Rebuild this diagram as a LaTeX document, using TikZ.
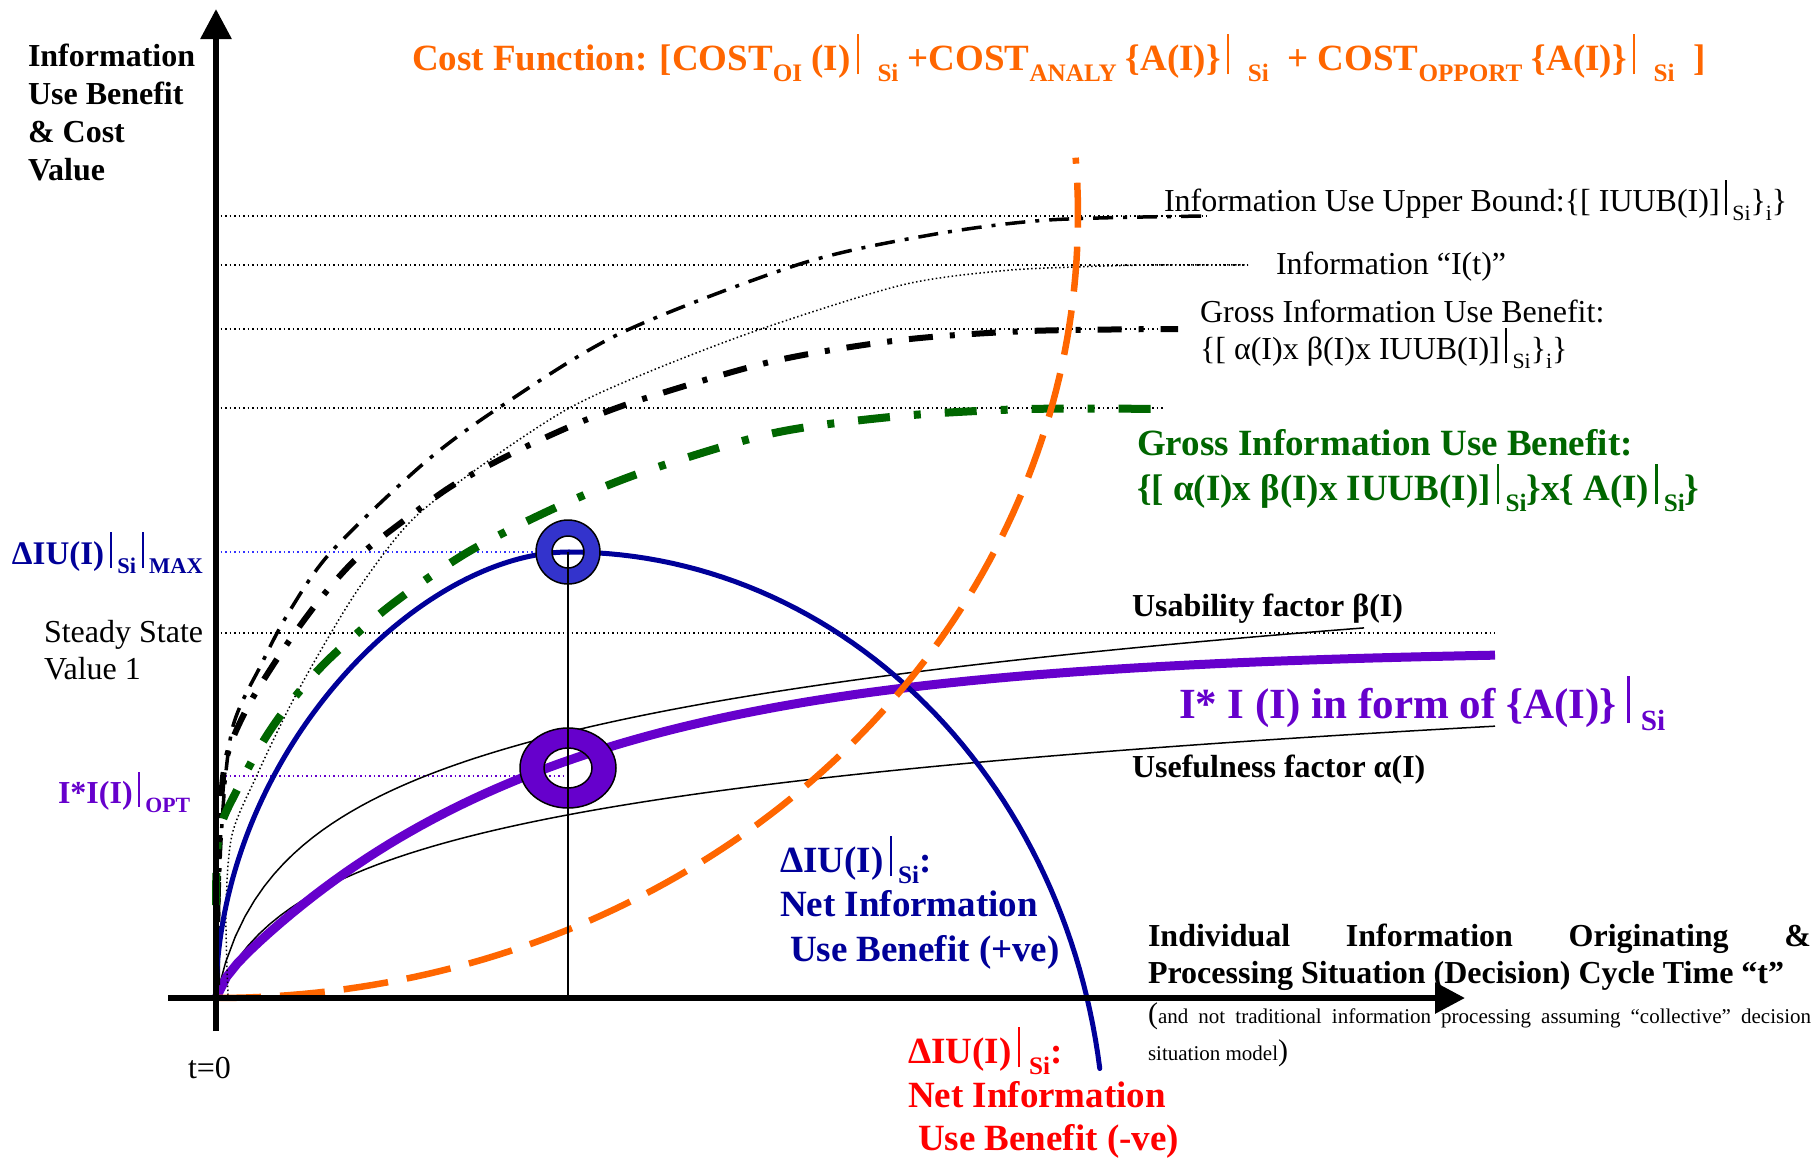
\documentclass[tikz,border=0pt]{standalone}
\usepackage{fontspec}
\setmainfont{Liberation Serif}
\usepackage{graphicx}
\usetikzlibrary{arrows.meta}
\definecolor{corange}{HTML}{FF6600}
\definecolor{cgreen}{HTML}{006600}
\definecolor{cblue}{HTML}{000099}
\definecolor{cring}{HTML}{3333CC}
\definecolor{cdotb}{HTML}{3333FF}
\definecolor{cpurple}{HTML}{6600CC}
\definecolor{cred}{HTML}{FF0000}
\newcommand\vb{\rule[-0.12em]{0.065em}{1.1em}}
\newcommand\lo[1]{\raisebox{-0.3em}{\scalebox{0.68}{#1}}}
\newcommand\fs[1]{\fontsize{#1}{#1}\selectfont}
\tikzset{
  lab/.style={anchor=base west, inner sep=0pt, outer sep=0pt},
  guide/.style={line width=1.5pt, dash pattern=on 1.5pt off 3pt},
  axisline/.style={line width=6pt, -{Triangle[length=30pt,width=30pt]}},
  ubc/.style={line width=3.5pt, dash pattern=on 20pt off 10pt on 4pt off 10pt},
  gbc/.style={line width=6pt, dash pattern=on 24pt off 17pt on 5pt off 17pt},
  grc/.style={cgreen, line width=8pt, dash pattern=on 32pt off 24pt on 7pt off 24pt},
  itc/.style={line width=1.5pt, dash pattern=on 1.5pt off 2.5pt},
  thinc/.style={line width=1.5pt},
  purc/.style={cpurple, line width=9pt},
  bluec/.style={cblue, line width=5pt, line cap=round},
  orc/.style={corange, line width=6.5pt, dash pattern=on 45pt off 19pt},
}
\begin{document}
\begin{tikzpicture}[x=1pt,y=-1pt]
\useasboundingbox (0,0) rectangle (1820,1157);
\fill[white] (0,0) rectangle (1820,1157);

% guide lines
\draw[guide] (216,216) -- (1207,216);
\draw[guide] (216,265) -- (1248,265);
\draw[guide] (216,329) -- (1178,329);
\draw[guide] (216,408) -- (1165,408);
\draw[guide] (216,633) -- (1495,633);
\draw[guide, cdotb] (216,552) -- (568,552);
\draw[guide, cpurple] (216,776) -- (568,776);

% factor curves
\draw[thinc] plot[domain=0:1148, samples=120] ({216+\x},{998-91*ln(1+\x/20)});
\draw[thinc] plot[domain=0:1279, samples=120] ({216+\x},{998-72*ln(1+\x/30)});
\draw[purc] plot[domain=0:1279, samples=120] ({216+\x},{998-335*(1-exp(-\x/320))-14*(1-exp(-\x/8))});

% upper curves
\draw[itc] plot[smooth] coordinates {(228,995) (226,910) (232,835) (257,775) (289,708) (321,650) (359,588) (410,522) (474,471) (564,411) (646,373) (761,329) (902,285) (1000,271) (1074,267) (1150,265) (1248,265)};
\draw[ubc] plot[smooth] coordinates {(217,990) (221,840) (232,730) (262,663) (289,612) (331,552) (423,464) (500,407) (621,333) (800,264) (930,235) (1048,220) (1207,216)};
\draw[gbc] plot[smooth] coordinates {(217,985) (218,880) (224,770) (245,712) (283,650) (321,598) (359,556) (410,516) (455,484) (519,450) (583,421) (646,398) (774,361) (901,340) (1029,331) (1178,329)};
\draw[grc] plot[smooth] coordinates {(216,905) (219,833) (238,788) (264,740) (290,703) (328,660) (391,605) (468,552) (557,507) (646,471) (774,433) (901,416) (1029,409) (1165,409)};

% net benefit
\coordinate (bstart) at (216,990);
\coordinate (bpeak) at (569,552);
\draw[bluec] (bstart) .. controls (222,750) and (420,552) .. (bpeak);
\draw[bluec] plot[domain=0:82, samples=60] ({569+536*sin(\x)},{552+600*(1-cos(\x))});

% cost
\draw[orc] plot[domain=0:94.2, samples=100] ({216+862*sin(\x)},{215+783*cos(\x)});

% rings
\path[fill=cring, even odd rule, draw=black, line width=1.5pt]
  (568,552) circle[radius=32pt] (568,552) circle[radius=16pt];
\path[fill=cpurple, even odd rule, draw=black, line width=1.5pt]
  (568,768) ellipse[x radius=48pt, y radius=40pt] (568,768) ellipse[x radius=24pt, y radius=20pt];
\coordinate (opt) at (568,552);
\coordinate (optb) at (568,998);
\draw[thinc] (opt) -- (optb);

% axes
\coordinate (o1) at (216,1031);
\coordinate (o2) at (216,9);
\coordinate (o3) at (168,998);
\coordinate (o4) at (1465,998);
\draw[axisline] (o1) -- (o2);
\draw[axisline] (o3) -- (o4);

% texts
\node[lab, font={\fs{32}\bfseries}] (yl1) at (28,66) {Information};
\node[lab, font={\fs{32}\bfseries}] (yl2) at (28,104) {Use Benefit};
\node[lab, font={\fs{32}\bfseries}] (yl3) at (28,142) {\& Cost};
\node[lab, font={\fs{32}\bfseries}] (yl4) at (28,180) {Value};

\node[lab, text=corange, font={\fs{37}\bfseries}] (cost) at (412,70)
  {Cost Function: [COST\lo{OI} (I)\,\vb\ \ \lo{Si} +COST\lo{ANALY} \{A(I)\}\,\vb\ \ \lo{Si} \ + COST\lo{OPPORT} \{A(I)\}\,\vb\ \ \lo{Si} \ ]};

\node[lab, font={\fs{32}}] (ubl) at (1164,211) {Information Use Upper Bound:\{[ IUUB(I)]\,\vb\,\lo{Si}\}\lo{i}\}};
\node[lab, font={\fs{32}}] (itl) at (1276,274) {Information “I(t)”};
\node[lab, font={\fs{32}}] (gbl1) at (1200,322) {Gross Information Use Benefit:};
\node[lab, font={\fs{32}}] (gbl2) at (1200,359) {\{[ α(I)x β(I)x IUUB(I)]\,\vb\,\lo{Si}\}\lo{i}\}};

\node[lab, text=cgreen, font={\fs{37}\bfseries}] (grl1) at (1137,455) {Gross Information Use Benefit:};
\node[lab, text=cgreen, font={\fs{37}\bfseries}] (grl2) at (1137,500) {\{[ α(I)x β(I)x IUUB(I)]\,\vb\,\lo{Si}\}x\{ A(I)\,\vb\,\lo{Si}\}};

\node[lab, font={\fs{32}\bfseries}] (bel) at (1132,616) {Usability factor β(I)};
\node[lab, text=cpurple, font={\fs{43}\bfseries}] (pul) at (1179,718) {I* I (I) in form of \{A(I)\}\ \vb\ \lo{Si}};
\node[lab, font={\fs{32}\bfseries}] (all) at (1132,777) {Usefulness factor α(I)};

\node[lab, text=cblue, font={\fs{33}\bfseries}] (maxl) at (12,564) {ΔIU(I)\,\vb\,\lo{Si}\,\vb\,\lo{MAX}};
\node[lab, font={\fs{32}}] (ss1) at (44,642) {Steady State};
\node[lab, font={\fs{32}}] (ss2) at (44,679) {Value 1};
\node[lab, text=cpurple, font={\fs{32}\bfseries}] (optl) at (58,803) {I*I(I)\,\vb\,\lo{OPT}};
\node[lab, font={\fs{32}}] (t0) at (188,1078) {t=0};

\node[lab, text=cblue, font={\fs{37}\bfseries}] (np1) at (780,872) {ΔIU(I)\,\vb\,\lo{Si}:};
\node[lab, text=cblue, font={\fs{37}\bfseries}] (np2) at (780,916) {Net Information};
\node[lab, text=cblue, font={\fs{37}\bfseries}] (np3) at (790,961) {Use Benefit (+ve)};

\node[lab, text=cred, font={\fs{37}\bfseries}] (nn1) at (908,1063) {ΔIU(I)\,\vb\ \lo{Si}:};
\node[lab, text=cred, font={\fs{37}\bfseries}] (nn2) at (908,1107) {Net Information};
\node[lab, text=cred, font={\fs{37}\bfseries}] (nn3) at (918,1150) {Use Benefit (-ve)};

\node[lab, font={\fs{32}\bfseries}] (xl1) at (1148,946) {\hbox to 663pt{Individual\hfill Information\hfill Originating\hfill \&}};
\node[lab, font={\fs{32}\bfseries}] (xl2) at (1148,983) {Processing Situation (Decision) Cycle Time “t”};
\node[lab, font={\fs{21}}] (xl3) at (1148,1023) {\hbox to 663pt{{\fs{30}(}and\hfill not\hfill traditional\hfill information\hfill processing\hfill assuming\hfill “collective”\hfill decision}};
\node[lab, font={\fs{21}}] (xl4) at (1148,1060) {situation model{\fs{30})}};
\end{tikzpicture}
\end{document}
